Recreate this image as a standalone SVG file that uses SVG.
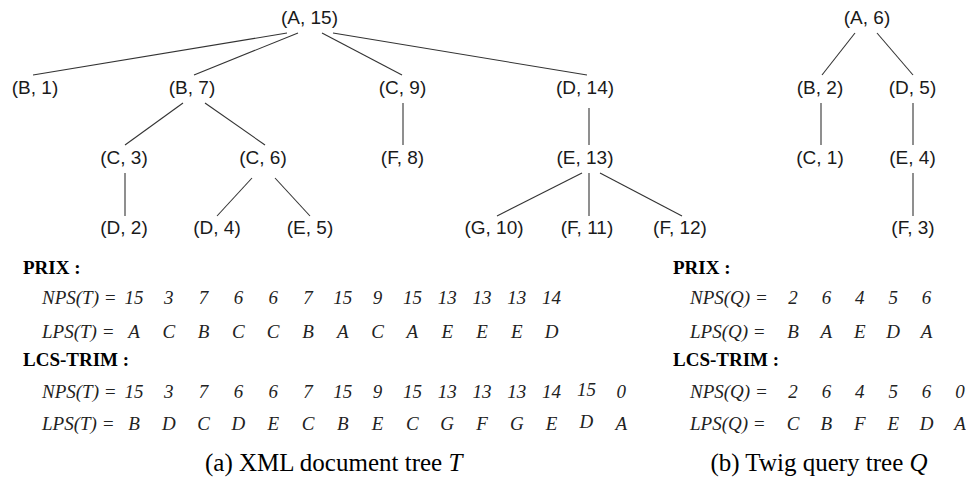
<svg xmlns="http://www.w3.org/2000/svg" width="966" height="488" viewBox="0 0 966 488">
<style>
.n{font-family:"Liberation Sans",Arial,sans-serif;font-size:19px;fill:#1a1a1a;text-anchor:middle}
.e line{stroke:#333;stroke-width:1.1}
.h{font-family:"Liberation Serif","Times New Roman",serif;font-size:19px;font-weight:bold;fill:#000}
.r{font-family:"Liberation Serif","Times New Roman",serif;font-size:19px;font-style:italic;fill:#222}
.c{text-anchor:middle}
.cap{font-family:"Liberation Serif","Times New Roman",serif;font-size:25px;fill:#000}
</style>
<rect width="966" height="488" fill="#fff"/>
<g class="e" id="connectors">
<line x1="287" y1="33" x2="33" y2="75"/>
<line x1="298" y1="33" x2="194" y2="75"/>
<line x1="322" y1="33" x2="402" y2="75"/>
<line x1="333" y1="33" x2="587" y2="75"/>
<line x1="183" y1="103" x2="125" y2="145"/>
<line x1="205" y1="103" x2="265" y2="145"/>
<line x1="403" y1="103" x2="403" y2="145"/>
<line x1="125" y1="173" x2="125" y2="216"/>
<line x1="252" y1="178" x2="217" y2="216"/>
<line x1="275" y1="178" x2="310" y2="216"/>
<line x1="589" y1="108" x2="589" y2="145"/>
<line x1="582" y1="173" x2="497" y2="216"/>
<line x1="589" y1="173" x2="589" y2="216"/>
<line x1="600" y1="173" x2="682" y2="216"/>
<line x1="855" y1="33" x2="822" y2="75"/>
<line x1="877" y1="33" x2="913" y2="75"/>
<line x1="821" y1="103" x2="821" y2="145"/>
<line x1="913" y1="103" x2="913" y2="145"/>
<line x1="913" y1="173" x2="913" y2="216"/>
</g>
<g id="nA15"><text class="n" x="309.5" y="24">(A, 15)</text></g>
<g id="nB1"><text class="n" x="35" y="94">(B, 1)</text></g>
<g id="nB7"><text class="n" x="192" y="94">(B, 7)</text></g>
<g id="nC9"><text class="n" x="402.5" y="94">(C, 9)</text></g>
<g id="nD14"><text class="n" x="585" y="94">(D, 14)</text></g>
<g id="nC3"><text class="n" x="124" y="164">(C, 3)</text></g>
<g id="nC6"><text class="n" x="263" y="164">(C, 6)</text></g>
<g id="nF8"><text class="n" x="402.5" y="164">(F, 8)</text></g>
<g id="nE13"><text class="n" x="585" y="164">(E, 13)</text></g>
<g id="nD2"><text class="n" x="124" y="234">(D, 2)</text></g>
<g id="nD4"><text class="n" x="217" y="234">(D, 4)</text></g>
<g id="nE5"><text class="n" x="310" y="234">(E, 5)</text></g>
<g id="nG10"><text class="n" x="494" y="234">(G, 10)</text></g>
<g id="nF11"><text class="n" x="587" y="234">(F, 11)</text></g>
<g id="nF12"><text class="n" x="680" y="234">(F, 12)</text></g>
<g id="qA6"><text class="n" x="867" y="24">(A, 6)</text></g>
<g id="qB2"><text class="n" x="820" y="94">(B, 2)</text></g>
<g id="qD5"><text class="n" x="912.5" y="94">(D, 5)</text></g>
<g id="qC1"><text class="n" x="820" y="164">(C, 1)</text></g>
<g id="qE4"><text class="n" x="912.5" y="164">(E, 4)</text></g>
<g id="qF3"><text class="n" x="913" y="234">(F, 3)</text></g>

<g id="seqT">
<text class="h" x="23" y="274">PRIX :</text>
<text class="r" x="42" y="304">NPS(T) =</text>
<text class="r c" y="304"><tspan x="134">15</tspan><tspan x="168.8">3</tspan><tspan x="203.6">7</tspan><tspan x="238.4">6</tspan><tspan x="273.2">6</tspan><tspan x="308">7</tspan><tspan x="342.8">15</tspan><tspan x="377.6">9</tspan><tspan x="412.4">15</tspan><tspan x="447.2">13</tspan><tspan x="482">13</tspan><tspan x="516.8">13</tspan><tspan x="551.6">14</tspan></text>
<text class="r" x="42" y="338">LPS(T) =</text>
<text class="r c" y="338"><tspan x="134">A</tspan><tspan x="168.8">C</tspan><tspan x="203.6">B</tspan><tspan x="238.4">C</tspan><tspan x="273.2">C</tspan><tspan x="308">B</tspan><tspan x="342.8">A</tspan><tspan x="377.6">C</tspan><tspan x="412.4">A</tspan><tspan x="447.2">E</tspan><tspan x="482">E</tspan><tspan x="516.8">E</tspan><tspan x="551.6">D</tspan></text>
<text class="h" x="23" y="366">LCS-TRIM :</text>
<text class="r" x="42" y="398">NPS(T) =</text>
<text class="r c" y="398"><tspan x="134">15</tspan><tspan x="168.8">3</tspan><tspan x="203.6">7</tspan><tspan x="238.4">6</tspan><tspan x="273.2">6</tspan><tspan x="308">7</tspan><tspan x="342.8">15</tspan><tspan x="377.6">9</tspan><tspan x="412.4">15</tspan><tspan x="447.2">13</tspan><tspan x="482">13</tspan><tspan x="516.8">13</tspan><tspan x="551.6">14</tspan><tspan x="586.4" y="396">15</tspan><tspan x="621.2" y="398">0</tspan></text>
<text class="r" x="42" y="430">LPS(T) =</text>
<text class="r c" y="430"><tspan x="134">B</tspan><tspan x="168.8">D</tspan><tspan x="203.6">C</tspan><tspan x="238.4">D</tspan><tspan x="273.2">E</tspan><tspan x="308">C</tspan><tspan x="342.8">B</tspan><tspan x="377.6">E</tspan><tspan x="412.4">C</tspan><tspan x="447.2">G</tspan><tspan x="482">F</tspan><tspan x="516.8">G</tspan><tspan x="551.6">E</tspan><tspan x="586.4" y="428">D</tspan><tspan x="621.2" y="430">A</tspan></text>
</g>
<g id="seqQ">
<text class="h" x="673" y="274">PRIX :</text>
<text class="r" x="690" y="304">NPS(Q) =</text>
<text class="r c" y="304"><tspan x="793">2</tspan><tspan x="826.4">6</tspan><tspan x="859.8">4</tspan><tspan x="893.2">5</tspan><tspan x="926.6">6</tspan></text>
<text class="r" x="690" y="338">LPS(Q) =</text>
<text class="r c" y="338"><tspan x="793">B</tspan><tspan x="826.4">A</tspan><tspan x="859.8">E</tspan><tspan x="893.2">D</tspan><tspan x="926.6">A</tspan></text>
<text class="h" x="673" y="366">LCS-TRIM :</text>
<text class="r" x="690" y="398">NPS(Q) =</text>
<text class="r c" y="398"><tspan x="793">2</tspan><tspan x="826.4">6</tspan><tspan x="859.8">4</tspan><tspan x="893.2">5</tspan><tspan x="926.6">6</tspan><tspan x="960">0</tspan></text>
<text class="r" x="690" y="430">LPS(Q) =</text>
<text class="r c" y="430"><tspan x="793">C</tspan><tspan x="826.4">B</tspan><tspan x="859.8">F</tspan><tspan x="893.2">E</tspan><tspan x="926.6">D</tspan><tspan x="960">A</tspan></text>
</g>
<text class="cap" x="205" y="471">(a) XML document tree <tspan font-style="italic">T</tspan></text>
<text class="cap" x="819" y="471" text-anchor="middle">(b) Twig query tree <tspan font-style="italic">Q</tspan></text>
</svg>
